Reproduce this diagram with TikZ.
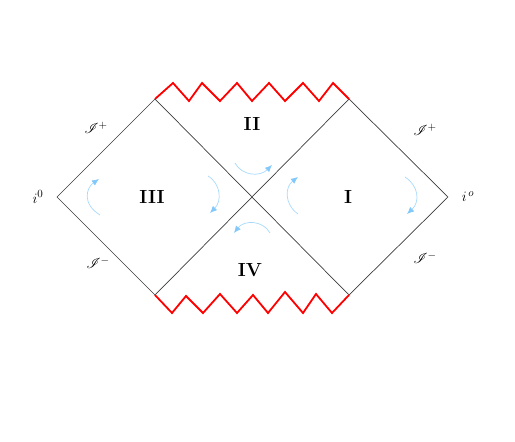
\documentclass[tikz,border=0pt]{standalone}
\usepackage{mathrsfs}
\usepackage{amsmath}
\usetikzlibrary{arrows.meta}
\definecolor{flowblue}{RGB}{130,200,250}
\definecolor{edgegray}{RGB}{60,60,60}
\begin{document}
\begin{tikzpicture}[x=1pt,y=-1pt,
        edge/.style={draw=edgegray, line width=0.7pt},
        singular/.style={draw=red, line width=1.8pt, line join=miter},
        flow/.style={draw=flowblue!70, line width=0.7pt,
            -{Latex[length=7pt,width=6pt,fill=flowblue,color=flowblue]}},
        region/.style={font=\fontsize{19}{22}\selectfont\bfseries},
        scri/.style={font=\fontsize{15}{18}\selectfont}]
        \useasboundingbox (0,0) rectangle (515,442);
        %corners
        \coordinate (L) at (57,197);
        \coordinate (R) at (448,197);
        \coordinate (TL) at (155,99);
        \coordinate (TR) at (349,99);
        \coordinate (BL) at (155,295);
        \coordinate (BR) at (349,295);
        %outer edges
        \draw[edge] (TL) -- (L) -- (BL);
        \draw[edge] (TR) -- (R) -- (BR);
        %horizons
        \draw[edge] (TL) -- (BR);
        \draw[edge] (TR) -- (BL);
        %singularities
        \draw[singular] (TL)
        \foreach \x/\y in {173/83,189/101,202/83,220/101,237/83,
            252/101,269/83,285/101,303/83,319/101,333/83}
        { -- (\x,\y) } -- (TR);
        \draw[singular] (BL)
        \foreach \x/\y in {172/313,186/296,203/313,220/294,237/313,
            253/295,268/313,285/292,303/313,316/294,332/313}
        { -- (\x,\y) } -- (BR);
        %flow
        \draw[flow] (100,215) .. controls (82,204) and (86,188) .. (99,179);
        \draw[flow] (208,176) .. controls (221,184) and (222,201) .. (210,213);
        \draw[flow] (298,214) .. controls (284,204) and (285,187) .. (298,177);
        \draw[flow] (405,177) .. controls (419,186) and (420,202) .. (407,214);
        \draw[flow] (235,163) .. controls (242,176) and (260,177) .. (272,165);
        \draw[flow] (270,233) .. controls (263,220) and (244,220) .. (234,233);
        %regions
        \node[region] (I) at (348,197) {I};
        \node[region] (II) at (252,124) {II};
        \node[region] (III) at (152,197) {III};
        \node[region] (IV) at (250,270) {IV};
        %infinities
        \node[scri] (scriTL) at (96,128) {$\mathscr{I}^{+}$};
        \node[scri] (scriBL) at (98,263) {$\mathscr{I}^{-}$};
        \node[scri] (scriTR) at (425,130) {$\mathscr{I}^{+}$};
        \node[scri] (scriBR) at (425,258) {$\mathscr{I}^{-}$};
        \node[scri] (iL) at (38,197) {$i^{0}$};
        \node[scri] (iR) at (468,197) {$i^{\,o}$};
    \end{tikzpicture}
\end{document}
